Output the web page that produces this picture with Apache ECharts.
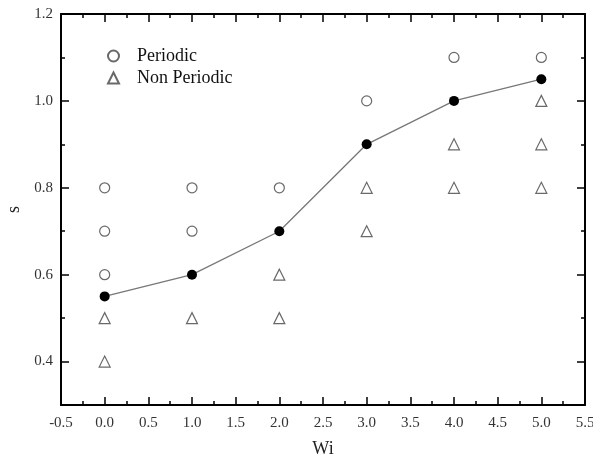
<!DOCTYPE html>
<html><head><meta charset="utf-8">
<script src="https://cdn.jsdelivr.net/npm/echarts@6/dist/echarts.min.js"></script>
<style>html,body{margin:0;padding:0;background:#fff}#c{width:593px;height:457px}</style>
</head><body><div id="c"></div>
<script>
const periodic = [[0,0.6],[0,0.7],[0,0.8],[1,0.7],[1,0.8],[2,0.8],[3,1.0],[4,1.1],[5,1.1]];
const nonPeriodic = [[0,0.4],[0,0.5],[1,0.5],[2,0.5],[2,0.6],[3,0.7],[3,0.8],[4,0.8],[4,0.9],[5,0.8],[5,0.9],[5,1.0]];
const boundary = [[0,0.55],[1,0.6],[2,0.7],[3,0.9],[4,1.0],[5,1.05]];
const yMajor = [0.4,0.6,0.8,1.0,1.2];
const yMinor = [0.5,0.7,0.9,1.1];
const font = '"Liberation Serif","DejaVu Serif",serif';
const chart = echarts.init(document.getElementById('c'));
const xCommon = {type:'value', min:-0.5, max:5.5, interval:0.5,
  splitLine:{show:false},
  axisLine:{show:true, lineStyle:{color:'#000', width:2}, onZero:false},
  axisTick:{inside:true, length:8, lineStyle:{color:'#000', width:1.5}},
  minorTick:{show:true, splitNumber:2, length:4, lineStyle:{color:'#000', width:1.5}},
  minorSplitLine:{show:false}};
const yBase = {type:'value', min:0.3, max:1.2, splitLine:{show:false}};
chart.setOption({
  animation:false,
  grid:{left:61, right:8, top:14, bottom:52, outerBoundsMode:'none', containLabel:false},
  legend:{orient:'vertical', left:102, top:42, itemWidth:11, itemHeight:11, itemGap:4,
    data:['Periodic','Non Periodic'],
    textStyle:{fontFamily:font, fontSize:18, color:'#111', padding:[0,0,0,13]}},
  xAxis:[
    Object.assign({}, xCommon, {position:'bottom', name:'Wi', nameLocation:'middle', nameGap:35,
      nameTextStyle:{fontFamily:font, fontSize:18, color:'#222'},
      axisLabel:{fontFamily:font, fontSize:15, color:'#333', margin:11, formatter:v=>v.toFixed(1)}}),
    Object.assign({}, xCommon, {position:'top', axisLabel:{show:false}})
  ],
  yAxis:[
    Object.assign({}, yBase, {position:'left', name:'s', nameLocation:'middle', nameGap:36,
      nameTextStyle:{fontFamily:font, fontSize:18, color:'#222'},
      axisLine:{show:true, lineStyle:{color:'#000', width:2}, onZero:false},
      axisTick:{inside:true, length:8, customValues:yMajor, lineStyle:{color:'#000', width:1.5}},
      axisLabel:{fontFamily:font, fontSize:15, color:'#333', margin:8, customValues:yMajor, formatter:v=>v.toFixed(1)}}),
    Object.assign({}, yBase, {position:'left', offset:0,
      axisLine:{show:false, onZero:false},
      axisTick:{inside:true, length:4, customValues:yMinor, lineStyle:{color:'#000', width:1.5}},
      axisLabel:{show:false}}),
    Object.assign({}, yBase, {position:'right', offset:0,
      axisLine:{show:true, lineStyle:{color:'#000', width:2}, onZero:false},
      axisTick:{inside:true, length:8, customValues:yMajor, lineStyle:{color:'#000', width:1.5}},
      axisLabel:{show:false}}),
    Object.assign({}, yBase, {position:'right', offset:0,
      axisLine:{show:false, onZero:false},
      axisTick:{inside:true, length:4, customValues:yMinor, lineStyle:{color:'#000', width:1.5}},
      axisLabel:{show:false}})
  ],
  series:[
    {name:'Periodic', type:'scatter', data:periodic, symbol:'circle', symbolSize:10,
      itemStyle:{color:'#fff', borderColor:'#444', borderWidth:1.2}},
    {name:'Non Periodic', type:'scatter', data:nonPeriodic, symbol:'triangle', symbolSize:11,
      itemStyle:{color:'#fff', borderColor:'#444', borderWidth:1.2}},
    {name:'Boundary', type:'line', data:boundary, symbol:'circle', symbolSize:10,
      lineStyle:{color:'#777', width:1.3}, itemStyle:{color:'#000'}}
  ]
});
</script></body></html>
